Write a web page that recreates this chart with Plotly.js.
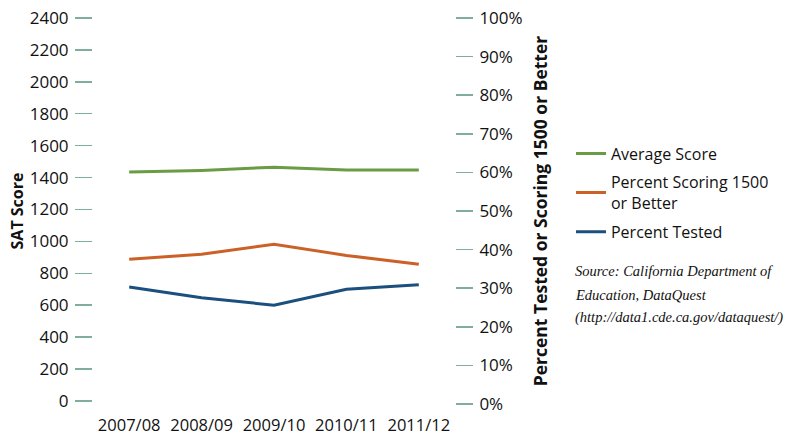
<!DOCTYPE html>
<html>
<head>
<meta charset="utf-8">
<script src="https://cdn.plot.ly/plotly-3.0.1.min.js"></script>
<style>
html,body{margin:0;padding:0;background:#fff;}
#chart{width:796px;height:436px;}
</style>
</head>
<body>
<div id="chart"></div>
<script>
const years = ["2007/08", "2008/09", "2009/10", "2010/11", "2011/12"];
const averageScore = [1435, 1445, 1465, 1448, 1448];
const pctScoring1500 = [37.5, 38.8, 41.4, 38.5, 36.2];
const pctTested = [30.3, 27.5, 25.6, 29.7, 30.9];
const leftTicks = [0, 200, 400, 600, 800, 1000, 1200, 1400, 1600, 1800, 2000, 2200, 2400];
const rightTicks = [0, 10, 20, 30, 40, 50, 60, 70, 80, 90, 100];
const sourceLines = ["Source: California Department of", "Education, DataQuest", "(http://data1.cde.ca.gov/dataquest/)"];

const FONT = "Open Sans, Noto Sans, sans-serif";
const SERIF = "Liberation Serif, DejaVu Serif, serif";
const tickColor = "#7fae9c";
const TXT = "#111";

const traces = [
  {x: years, y: averageScore, name: "Average Score", type: "scatter", mode: "lines",
   legendgroup: "a", line: {color: "#6a9b45", width: 3}, yaxis: "y"},
  {x: years, y: pctScoring1500, name: "Percent Scoring 1500<br>or Better", type: "scatter", mode: "lines",
   legendgroup: "b", line: {color: "#cc6128", width: 3}, yaxis: "y2"},
  {x: years, y: pctTested, name: "Percent Tested", type: "scatter", mode: "lines",
   legendgroup: "c", line: {color: "#1b4f7e", width: 3}, yaxis: "y2"}
];

const sourceY = [0.3446, 0.2824, 0.2228];
const annotations = sourceLines.map((t, i) => ({
  xref: "paper", yref: "paper", x: 1.326, y: sourceY[i], xanchor: "left", yanchor: "middle",
  align: "left", showarrow: false, text: "<i>" + t + "</i>",
  font: {family: SERIF, size: 14.5, color: TXT}
}));

const layout = {
  width: 796, height: 436,
  margin: {l: 93, r: 341, t: 18, b: 32},
  paper_bgcolor: "#fff", plot_bgcolor: "#fff",
  font: {family: FONT, size: 16, color: TXT},
  showlegend: true,
  legend: {x: 1.3204, xanchor: "left", y: 0.693, yanchor: "top",
           font: {family: FONT, size: 16, color: TXT},
           tracegroupgap: 5, itemwidth: 30, traceorder: "grouped"},
  xaxis: {type: "category", range: [-0.5, 4.5], showgrid: false, zeroline: false,
          showline: false, ticks: "", ticklabelstandoff: 9,
          tickfont: {family: FONT, size: 16.5, color: TXT}},
  yaxis: {range: [-19, 2400], tickvals: leftTicks, ticktext: leftTicks.map(String),
          showgrid: false, zeroline: false, showline: false,
          ticks: "outside", ticklen: 17, tickwidth: 1.5, tickcolor: tickColor,
          ticklabelstandoff: 3,
          tickfont: {family: FONT, size: 17, color: TXT},
          title: {text: "<b>SAT Score</b>", font: {family: FONT, size: 16, color: TXT}, standoff: 2}},
  yaxis2: {range: [0, 100], overlaying: "y", side: "right", tickvals: rightTicks,
           ticktext: rightTicks.map(v => v + "%"),
           showgrid: false, zeroline: false, showline: false,
           ticks: "outside", ticklen: 17, tickwidth: 1.5, tickcolor: tickColor,
           ticklabelstandoff: 3,
           tickfont: {family: FONT, size: 17, color: TXT},
           title: {text: "<b>Percent Tested or Scoring 1500 or Better</b>", font: {family: FONT, size: 17.5, color: TXT}, standoff: 13}},
  annotations: annotations
};

Plotly.newPlot("chart", traces, layout, {displayModeBar: false, staticPlot: true});
</script>
</body>
</html>
